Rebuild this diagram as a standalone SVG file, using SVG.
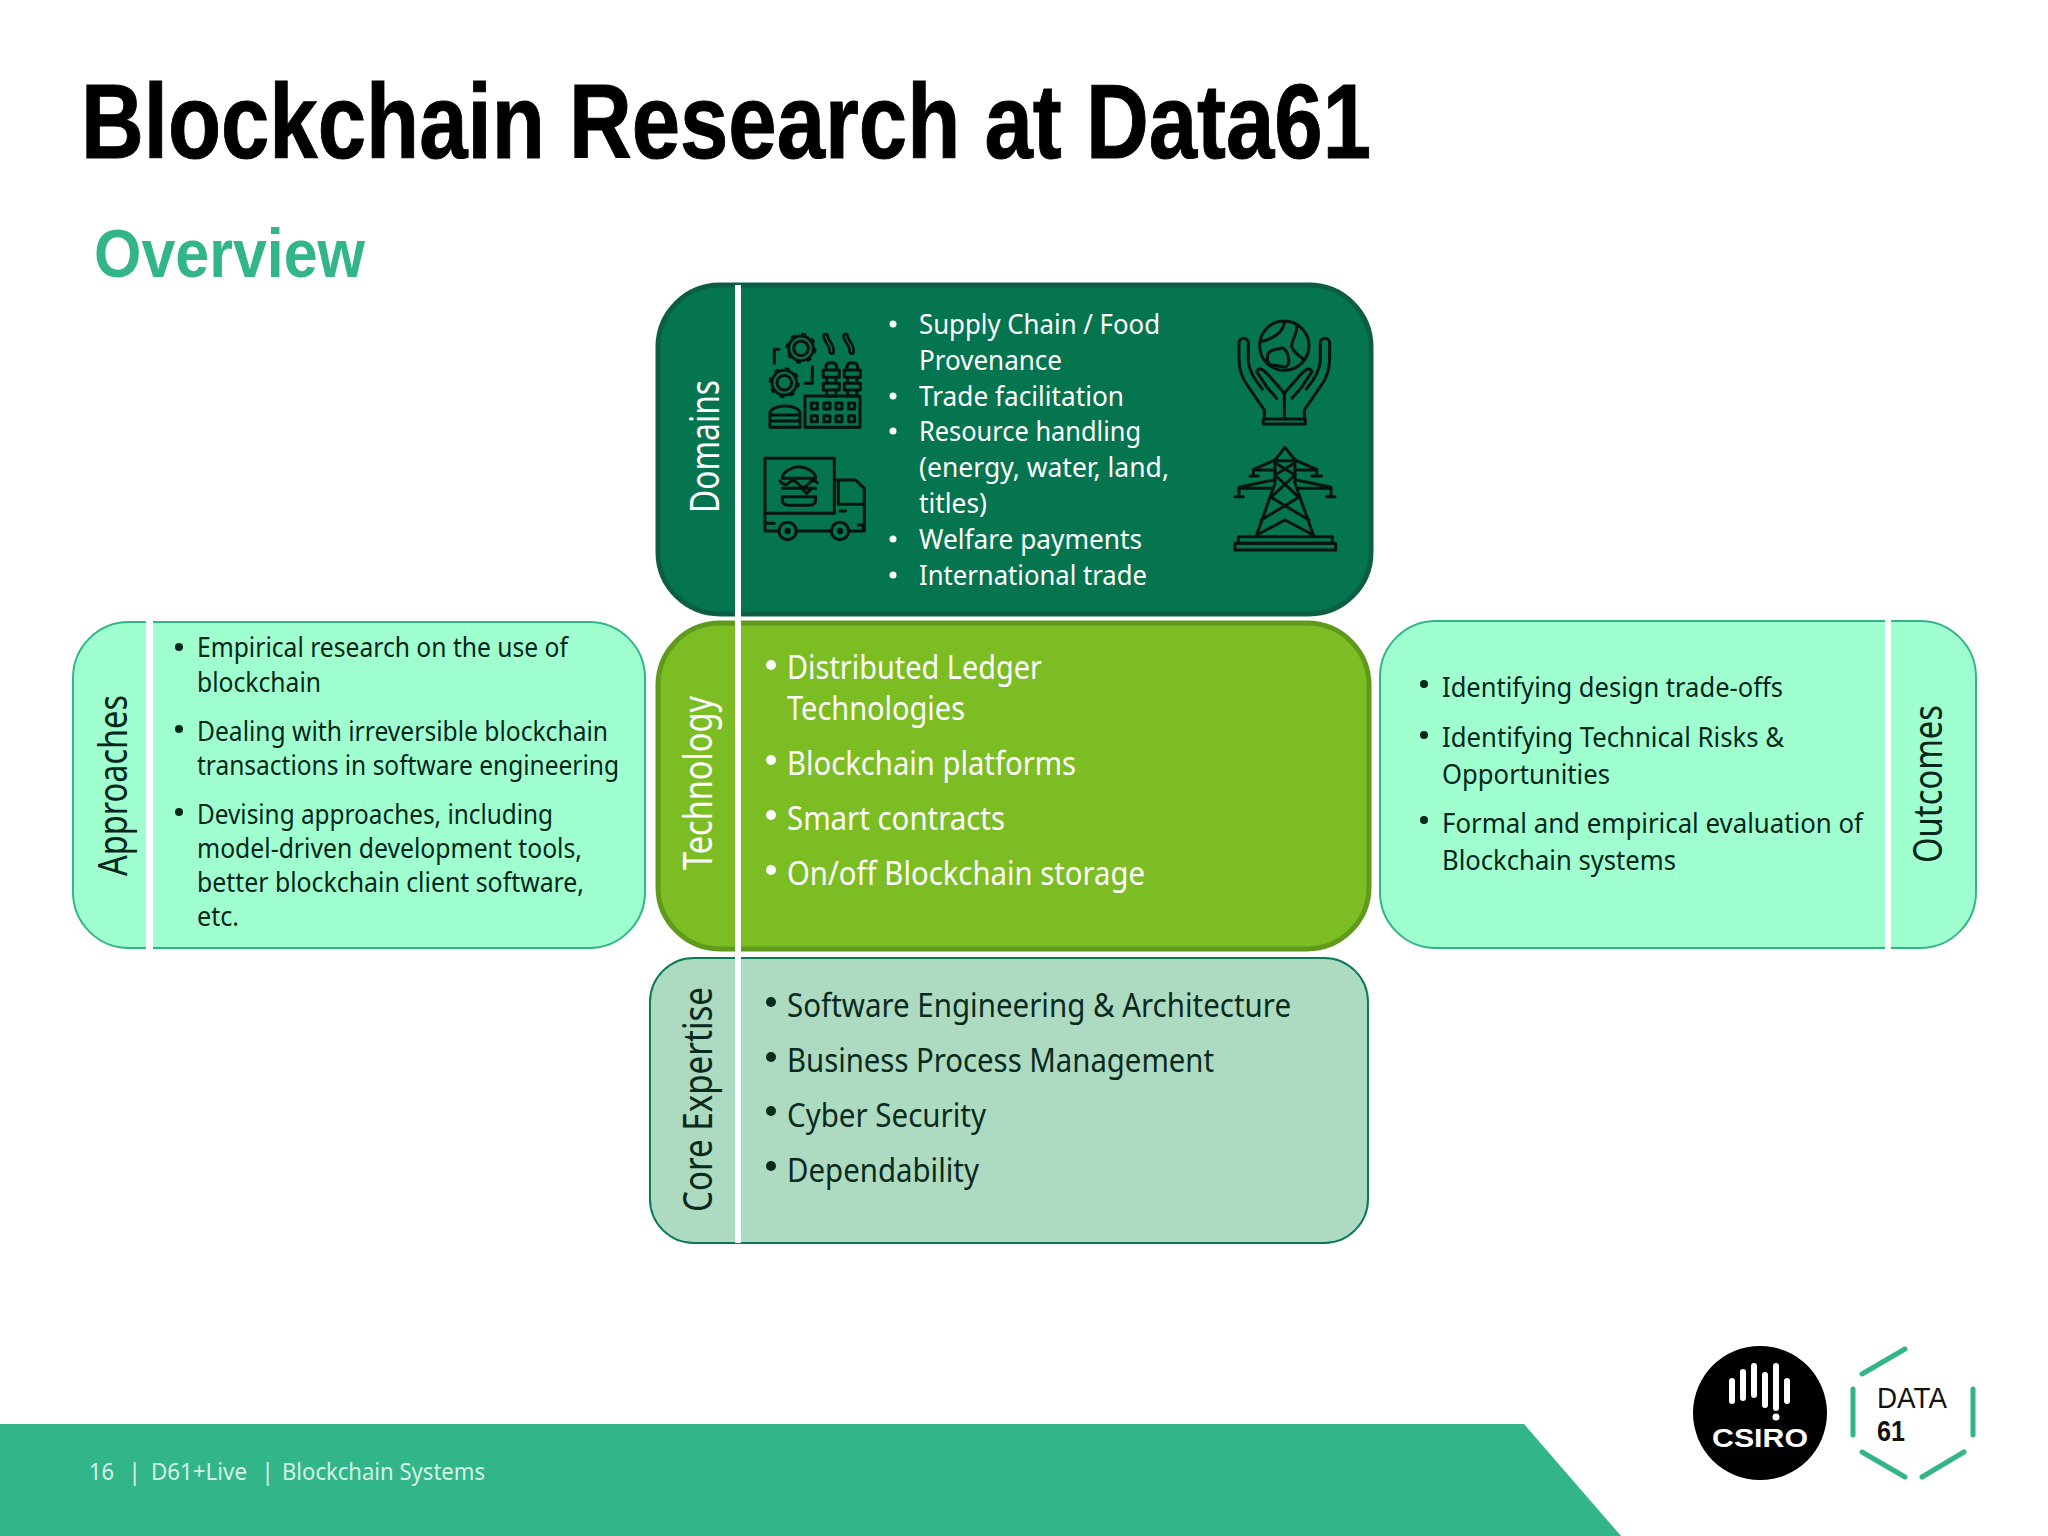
<svg xmlns="http://www.w3.org/2000/svg" width="2048" height="1536" viewBox="0 0 2048 1536">
<style>
text{font-family:"Noto Sans","Open Sans",sans-serif}
.t{font-size:28px;fill:#fff}
.tech{font-size:32px;fill:#fff}
.core{font-size:32px;fill:#0a2a20}
.dk{font-size:27px;fill:#04261b}
.lab{font-size:40px}
.ic{fill:none;stroke:#03140e;stroke-width:9;stroke-linejoin:round;stroke-linecap:round}
.sep{fill:#fff}
.hex{fill:none;stroke:#33b58a;stroke-width:5;stroke-linecap:round}
.bar{stroke:#fff;stroke-width:6;stroke-linecap:round}
</style>
<rect width="2048" height="1536" fill="#fff"/>
<g id="header">
<text x="81" y="158" font-size="105" font-weight="700" fill="#000" stroke="#000" stroke-width="1" style="font-family:'Liberation Sans',sans-serif" textLength="1290" lengthAdjust="spacingAndGlyphs">Blockchain Research at Data61</text>
<text x="94" y="277" font-size="68" font-weight="700" fill="#33b58a" style="font-family:'Liberation Sans',sans-serif" textLength="271" lengthAdjust="spacingAndGlyphs">Overview</text>
</g>
<g id="footer">
<polygon points="0,1424 1524,1424 1621,1536 0,1536" fill="#33b58a"/>
<g font-size="24" fill="#d3f2e6">
<text x="89" y="1480" textLength="25" lengthAdjust="spacingAndGlyphs">16</text>
<text x="128" y="1480">|</text>
<text x="151" y="1480" textLength="96" lengthAdjust="spacingAndGlyphs">D61+Live</text>
<text x="261" y="1480">|</text>
<text x="282" y="1480" textLength="203" lengthAdjust="spacingAndGlyphs">Blockchain Systems</text>
</g>
</g>
<g id="domains">
<rect x="658" y="285" width="713" height="329" rx="62" fill="#057550" stroke="#0b5e44" stroke-width="5"/>
<text class="lab" fill="#fff" transform="translate(719 513) rotate(-90)" textLength="133" lengthAdjust="spacingAndGlyphs">Domains</text>
<text class="t" x="919" y="334" textLength="241" lengthAdjust="spacingAndGlyphs">Supply Chain / Food</text>
<text class="t" x="919" y="370" textLength="143" lengthAdjust="spacingAndGlyphs">Provenance</text>
<text class="t" x="919" y="406" textLength="205" lengthAdjust="spacingAndGlyphs">Trade facilitation</text>
<text class="t" x="919" y="441" textLength="222" lengthAdjust="spacingAndGlyphs">Resource handling</text>
<text class="t" x="919" y="477" textLength="250" lengthAdjust="spacingAndGlyphs">(energy, water, land,</text>
<text class="t" x="919" y="513" textLength="68" lengthAdjust="spacingAndGlyphs">titles)</text>
<text class="t" x="919" y="549" textLength="223" lengthAdjust="spacingAndGlyphs">Welfare payments</text>
<text class="t" x="919" y="585" textLength="228" lengthAdjust="spacingAndGlyphs">International trade</text>
<g fill="#fff"><circle cx="893" cy="324" r="3.5"/><circle cx="893" cy="396" r="3.5"/><circle cx="893" cy="431" r="3.5"/><circle cx="893" cy="539" r="3.5"/><circle cx="893" cy="575" r="3.5"/></g>
<g id="icon-factory" class="ic" transform="translate(755 320) scale(.3333)">
<circle cx="138" cy="85" r="22"/><circle cx="138" cy="85" r="37"/><circle cx="138" cy="85" r="42" stroke-dasharray="14 19" stroke-linecap="butt"/>
<circle cx="88" cy="188" r="22"/><circle cx="88" cy="188" r="37"/><circle cx="88" cy="188" r="42" stroke-dasharray="14 19" stroke-linecap="butt"/>
<path d="M72 88H58V130M172 140V190H150"/>
<path d="M212 48C212 65 232 72 230 95M272 48C272 65 292 72 290 95" stroke-width="20"/>
<path d="M212 48C212 65 232 72 230 95M272 48C272 65 292 72 290 95" stroke-width="4" stroke="#057550"/>
<path d="M213 150V140q0-12 16-12t16 12V150M205 150h48v22h-48zM215 172h28v18h-28zM205 190h48v20h-48zM215 210h28v18h-28z"/>
<path d="M276 150V140q0-12 16-12t16 12V150M268 150h48v22h-48zM278 172h28v18h-28zM268 190h48v20h-48zM278 210h28v18h-28z"/>
<rect x="150" y="228" width="165" height="94"/>
<path d="M169 249h18v18h-18zM207 249h18v18h-18zM243 249h18v18h-18zM281 249h18v18h-18zM169 287h18v18h-18zM207 287h18v18h-18zM243 287h18v18h-18zM281 287h18v18h-18z"/>
<path d="M45 285v-5c0-15 25-22 45-22s45 7 45 22v5zM45 285v37h90v-37M45 303h90"/>
</g>
<g id="icon-truck" class="ic" transform="translate(755 445) scale(.3333)">
<rect x="30" y="40" width="208" height="165"/>
<path d="M30 205V258H70M125 258H228M282 258H328V130L302 105H245M250 110V178H325M255 198H272M30 235H58M310 240h15v18"/>
<circle cx="98" cy="258" r="26"/><circle cx="255" cy="258" r="26"/>
<circle cx="98" cy="258" r="5"/><circle cx="255" cy="258" r="5"/>
<path d="M82 100c0-20 30-35 50-35s50 15 50 35zM75 108q14 18 28 5t28 5t28 0t28-5M82 130H182M82 155H182M82 155v8q0 18 20 18h60q20 0 20-18v-8zM140 130l15 15l15-15"/>
</g>
<g id="icon-hands" class="ic" transform="translate(1225 315) scale(.3333)">
<circle cx="178" cy="92" r="74"/>
<path d="M178 25c-5 25-30 45-70 55M215 30c5 25-15 40-15 65c10 25 25 25 35 38M130 115c10-15 30-10 35-15c15-5 25 15 25 30c5 15-5 30-15 25c-15 0-20-5-35-5c-15-5-15-20-10-35z"/>
<path id="hand-l" d="M118 312V285L70 215C50 190 42 160 42 130V85C42 65 70 65 70 85V140C72 165 85 190 112 222M95 170C105 150 120 170 135 185L178 235M95 170L125 215L155 250"/>
<path d="M118 312V285L70 215C50 190 42 160 42 130V85C42 65 70 65 70 85V140C72 165 85 190 112 222M95 170C105 150 120 170 135 185L178 235M95 170L125 215L155 250" transform="matrix(-1 0 0 1 356 0)"/>
<path d="M178 235V312"/>
<rect x="115" y="312" width="126" height="15"/>
</g>
<g id="icon-tower" class="ic" transform="translate(1225 440) scale(.3333)">
<path d="M180 22L150 60V130L95 285M180 22L210 60V130L265 285"/>
<path d="M150 62H210M150 68L210 105M210 68L150 105M150 105L222 172M210 105L138 172M138 172L252 240M222 172L108 240M95 285L180 240L265 285"/>
<path d="M150 60L85 88V108M210 60L275 88V108M75 108H100M260 108H290M85 90H150M275 90H210"/>
<path d="M145 120L42 142V170M215 120L318 142V170M30 170H55M305 170H330M42 145H140M318 145H220"/>
<rect x="40" y="290" width="282" height="20"/><rect x="30" y="310" width="302" height="20"/>
</g>
</g>
<g id="technology">
<rect x="658" y="623" width="711" height="326" rx="62" fill="#7bbd22" stroke="#5f9a1d" stroke-width="5"/>
<text class="lab" fill="#fff" transform="translate(712 870) rotate(-90)" textLength="174" lengthAdjust="spacingAndGlyphs">Technology</text>
<text class="tech" x="787" y="679" textLength="255" lengthAdjust="spacingAndGlyphs">Distributed Ledger</text>
<text class="tech" x="787" y="720" textLength="178" lengthAdjust="spacingAndGlyphs">Technologies</text>
<text class="tech" x="787" y="775" textLength="289" lengthAdjust="spacingAndGlyphs">Blockchain platforms</text>
<text class="tech" x="787" y="830" textLength="218" lengthAdjust="spacingAndGlyphs">Smart contracts</text>
<text class="tech" x="787" y="885" textLength="358" lengthAdjust="spacingAndGlyphs">On/off Blockchain storage</text>
<g fill="#fff"><circle cx="771" cy="665" r="5"/><circle cx="771" cy="760" r="5"/><circle cx="771" cy="815" r="5"/><circle cx="771" cy="870" r="5"/></g>
</g>
<g id="core-expertise">
<rect x="650" y="958" width="718" height="285" rx="44" fill="#addbc1" stroke="#0b7a55" stroke-width="2"/>
<text class="lab" fill="#0a2a20" transform="translate(712 1212) rotate(-90)" textLength="225" lengthAdjust="spacingAndGlyphs">Core Expertise</text>
<text class="core" x="787" y="1017" textLength="504" lengthAdjust="spacingAndGlyphs">Software Engineering &amp; Architecture</text>
<text class="core" x="787" y="1072" textLength="427" lengthAdjust="spacingAndGlyphs">Business Process Management</text>
<text class="core" x="787" y="1127" textLength="199" lengthAdjust="spacingAndGlyphs">Cyber Security</text>
<text class="core" x="787" y="1182" textLength="192" lengthAdjust="spacingAndGlyphs">Dependability</text>
<g fill="#0a2a20"><circle cx="771" cy="1002" r="5"/><circle cx="771" cy="1057" r="5"/><circle cx="771" cy="1111" r="5"/><circle cx="771" cy="1166" r="5"/></g>
</g>
<rect class="sep" x="735" y="285" width="6" height="958"/>
<g id="approaches">
<rect x="73" y="622" width="572" height="326" rx="56" fill="#9fffcf" stroke="#33b58a" stroke-width="2"/>
<rect class="sep" x="146" y="621" width="7" height="328"/>
<text class="lab" fill="#04261b" transform="translate(127 876) rotate(-90)" textLength="181" lengthAdjust="spacingAndGlyphs">Approaches</text>
<text class="dk" x="197" y="657" textLength="371" lengthAdjust="spacingAndGlyphs">Empirical research on the use of</text>
<text class="dk" x="197" y="692" textLength="124" lengthAdjust="spacingAndGlyphs">blockchain</text>
<text class="dk" x="197" y="741" textLength="411" lengthAdjust="spacingAndGlyphs">Dealing with irreversible blockchain</text>
<text class="dk" x="197" y="775" textLength="422" lengthAdjust="spacingAndGlyphs">transactions in software engineering</text>
<text class="dk" x="197" y="824" textLength="356" lengthAdjust="spacingAndGlyphs">Devising approaches, including</text>
<text class="dk" x="197" y="858" textLength="385" lengthAdjust="spacingAndGlyphs">model-driven development tools,</text>
<text class="dk" x="197" y="892" textLength="387" lengthAdjust="spacingAndGlyphs">better blockchain client software,</text>
<text class="dk" x="197" y="926" textLength="42" lengthAdjust="spacingAndGlyphs">etc.</text>
<g fill="#04261b"><circle cx="179" cy="647" r="4"/><circle cx="179" cy="729" r="4"/><circle cx="179" cy="812" r="4"/></g>
</g>
<g id="outcomes">
<rect x="1380" y="621" width="596" height="327" rx="56" fill="#9fffcf" stroke="#33b58a" stroke-width="2"/>
<rect class="sep" x="1885" y="620" width="6" height="329"/>
<text class="lab" fill="#04261b" transform="translate(1942 863) rotate(-90)" textLength="158" lengthAdjust="spacingAndGlyphs">Outcomes</text>
<text class="dk" x="1442" y="697" textLength="341" lengthAdjust="spacingAndGlyphs">Identifying design trade-offs</text>
<text class="dk" x="1442" y="747" textLength="342" lengthAdjust="spacingAndGlyphs">Identifying Technical Risks &amp;</text>
<text class="dk" x="1442" y="784" textLength="168" lengthAdjust="spacingAndGlyphs">Opportunities</text>
<text class="dk" x="1442" y="833" textLength="421" lengthAdjust="spacingAndGlyphs">Formal and empirical evaluation of</text>
<text class="dk" x="1442" y="870" textLength="234" lengthAdjust="spacingAndGlyphs">Blockchain systems</text>
<g fill="#04261b"><circle cx="1424" cy="684" r="4"/><circle cx="1424" cy="735" r="4"/><circle cx="1424" cy="820" r="4"/></g>
</g>
<g id="logo-csiro">
<circle cx="1760" cy="1413" r="67" fill="#000"/>
<path class="bar" d="M1732 1381v20M1743 1372v26M1754 1366v29M1765 1375v30M1776 1366v42M1787 1381v20"/>
<circle cx="1776" cy="1417" r="3.5" fill="#fff"/>
<text x="1712" y="1447" font-size="25" font-weight="700" fill="#fff" style="font-family:'Liberation Sans',sans-serif" textLength="96" lengthAdjust="spacingAndGlyphs">CSIRO</text>
</g>
<g id="logo-data61">
<path class="hex" d="M1862 1374l43-25M1853 1389v46M1862 1452l43 25M1922 1477l42-25M1973 1389v46"/>
<text x="1877" y="1408" font-size="29" fill="#111" style="font-family:'Liberation Sans',sans-serif" textLength="70" lengthAdjust="spacingAndGlyphs">DATA</text>
<text x="1877" y="1441" font-size="29" font-weight="700" fill="#111" style="font-family:'Liberation Sans',sans-serif" textLength="28" lengthAdjust="spacingAndGlyphs">61</text>
</g>
</svg>
